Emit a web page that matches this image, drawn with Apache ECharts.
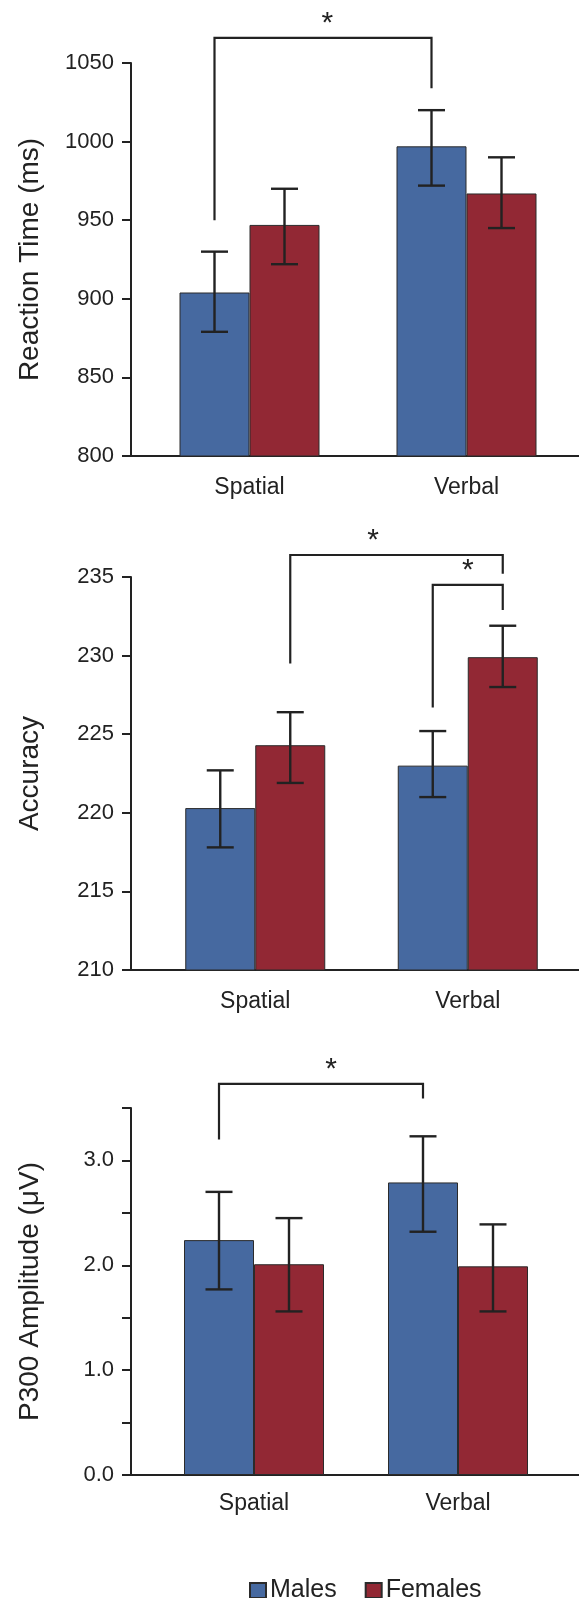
<!DOCTYPE html>
<html><head><meta charset="utf-8">
<script src="https://cdn.jsdelivr.net/npm/echarts@6/dist/echarts.min.js"></script>
<style>html,body{margin:0;padding:0;background:#fff}#c{width:579px;height:1598px}</style>
</head><body><div id="c"></div>
<script>
// ---------- DATA ----------
const categories = ['Spatial', 'Verbal'];
const groups = ['Males', 'Females'];

// Panel 1: Reaction Time (ms)
const rtMales = [904, 997];
const rtFemales = [947, 967];
const rtMalesErrLow = [879, 972];
const rtMalesErrHigh = [930, 1020];
const rtFemalesErrLow = [922, 945];
const rtFemalesErrHigh = [970, 990];
const rtAxis = [800, 1050, 50];
// brackets: [fromCat, fromGroup, fromLegY, toCat, toGroup, toLegY, topY, starFraction]
const rtBrackets = [[0, 0, 950, 1, 0, 1034, 1066, 0.52]];

// Panel 2: Accuracy
const accMales = [220.3, 223.0];
const accFemales = [224.3, 229.9];
const accMalesErrLow = [217.8, 221.0];
const accMalesErrHigh = [222.7, 225.2];
const accFemalesErrLow = [221.9, 228.0];
const accFemalesErrHigh = [226.4, 231.9];
const accAxis = [210, 235, 5];
const accBrackets = [[0, 1, 229.5, 1, 1, 235.2, 236.4, 0.39], [1, 0, 226.7, 1, 1, 232.9, 234.5, 0.5]];

// Panel 3: P300 Amplitude (µV)
const p3Males = [2.24, 2.79];
const p3Females = [2.01, 1.99];
const p3MalesErrLow = [1.77, 2.32];
const p3MalesErrHigh = [2.70, 3.23];
const p3FemalesErrLow = [1.56, 1.56];
const p3FemalesErrHigh = [2.45, 2.39];
const p3Axis = [0, 3.5, 0.5];
const p3Brackets = [[0, 0, 3.20, 1, 0, 3.59, 3.73, 0.55]];

const titles = ['Reaction Time (ms)', 'Accuracy', 'P300 Amplitude (\u03bcV)'];

// ---------- STYLE / LAYOUT ----------
const FONT = '"Liberation Sans", Arial, Helvetica, sans-serif';
const INK = '#222222';
const COLORS = ['#4669a0', '#922834'];
const BW = 70;
const layouts = [
  {top: 63, height: 393, barLeft: 141, barRight: 4, labelMargin: 20, fmt: v => String(v)},
  {top: 577, height: 393, barLeft: 149, barRight: 5, labelMargin: 20, fmt: v => String(v)},
  {top: 1108, height: 367, barLeft: 152, barRight: 19, labelMargin: 17, fmt: v => (Math.abs(v % 1) < 1e-9 ? v.toFixed(1) : '')}
];
const panels = [
  {m: rtMales, f: rtFemales, mLo: rtMalesErrLow, mHi: rtMalesErrHigh, fLo: rtFemalesErrLow, fHi: rtFemalesErrHigh, axis: rtAxis, br: rtBrackets},
  {m: accMales, f: accFemales, mLo: accMalesErrLow, mHi: accMalesErrHigh, fLo: accFemalesErrLow, fHi: accFemalesErrHigh, axis: accAxis, br: accBrackets},
  {m: p3Males, f: p3Females, mLo: p3MalesErrLow, mHi: p3MalesErrHigh, fLo: p3FemalesErrLow, fHi: p3FemalesErrHigh, axis: p3Axis, br: p3Brackets}
];

const grid = [], xAxis = [], yAxis = [], series = [];
panels.forEach((p, i) => {
  const L = layouts[i];
  const fi = 2 * i, bi = 2 * i + 1;
  grid.push({left: 131, right: 0, top: L.top, height: L.height});
  grid.push({left: L.barLeft, right: L.barRight, top: L.top, height: L.height});
  xAxis.push({gridIndex: fi, type: 'value', min: 0, max: 1,
    axisLine: {show: true, lineStyle: {color: INK, width: 2}},
    axisTick: {show: false}, axisLabel: {show: false}, splitLine: {show: false}});
  xAxis.push({gridIndex: bi, type: 'category', data: categories,
    axisLine: {show: false}, axisTick: {show: false}, splitLine: {show: false},
    axisLabel: {fontSize: 23, color: INK, fontFamily: FONT, margin: L.labelMargin}});
  yAxis.push({gridIndex: fi, type: 'value', min: p.axis[0], max: p.axis[1], interval: p.axis[2],
    axisLine: {show: true, lineStyle: {color: INK, width: 2}},
    axisTick: {show: true, length: 9, lineStyle: {color: INK, width: 2}},
    axisLabel: {fontSize: 22, color: INK, fontFamily: FONT, margin: 17, formatter: L.fmt},
    splitLine: {show: false},
    name: titles[i], nameLocation: 'middle', nameGap: 87,
    nameTextStyle: {fontSize: 28, color: INK, fontFamily: FONT}});
  yAxis.push({gridIndex: bi, type: 'value', min: p.axis[0], max: p.axis[1], show: false, splitLine: {show: false}});

  [p.m, p.f].forEach((vals, g) => {
    series.push({type: 'bar', name: groups[g], xAxisIndex: bi, yAxisIndex: bi, data: vals,
      barWidth: BW, barGap: '0%',
      itemStyle: {color: COLORS[g], borderColor: '#2b2b2b', borderWidth: 1}});
  });

  const errData = [];
  categories.forEach((c, j) => {
    errData.push([j, p.mLo[j], p.mHi[j], 0]);
    errData.push([j, p.fLo[j], p.fHi[j], 1]);
  });
  series.push({type: 'custom', xAxisIndex: bi, yAxisIndex: bi, data: errData, z: 5,
    renderItem: (params, api) => {
      const lo = api.coord([api.value(0), api.value(1)]);
      const hi = api.coord([api.value(0), api.value(2)]);
      const x = lo[0] + (api.value(3) - 0.5) * BW;
      const cap = 13.5;
      const st = {stroke: INK, lineWidth: 2.4};
      return {type: 'group', children: [
        {type: 'line', shape: {x1: x, y1: lo[1], x2: x, y2: hi[1]}, style: st},
        {type: 'line', shape: {x1: x - cap, y1: lo[1], x2: x + cap, y2: lo[1]}, style: st},
        {type: 'line', shape: {x1: x - cap, y1: hi[1], x2: x + cap, y2: hi[1]}, style: st}
      ]};
    }});

  series.push({type: 'custom', xAxisIndex: bi, yAxisIndex: bi, data: p.br, z: 5, clip: false,
    renderItem: (params, api) => {
      const a = api.coord([api.value(0), api.value(2)]);
      const b = api.coord([api.value(3), api.value(5)]);
      const t = api.coord([api.value(0), api.value(6)]);
      const x1 = a[0] + (api.value(1) - 0.5) * BW;
      const x2 = b[0] + (api.value(4) - 0.5) * BW;
      const sx = x1 + api.value(7) * (x2 - x1);
      return {type: 'group', children: [
        {type: 'polyline', shape: {points: [[x1, a[1]], [x1, t[1]], [x2, t[1]], [x2, b[1]]]},
          style: {stroke: INK, lineWidth: 2.2, fill: null}},
        {type: 'text', x: sx, y: t[1] - 14,
          style: {text: '*', font: '30px ' + FONT, fill: INK, align: 'center', verticalAlign: 'middle'}}
      ]};
    }});
});

const chart = echarts.init(document.getElementById('c'), null, {renderer: 'canvas'});
chart.setOption({
  animation: false,
  backgroundColor: '#ffffff',
  grid, xAxis, yAxis, series,
  legend: {data: groups, left: 244, top: 1573, icon: 'rect', itemWidth: 16, itemHeight: 15, itemGap: 28,
    textStyle: {fontSize: 25, color: INK, fontFamily: FONT, padding: [0, 0, 0, -1]}}
});
</script></body></html>
